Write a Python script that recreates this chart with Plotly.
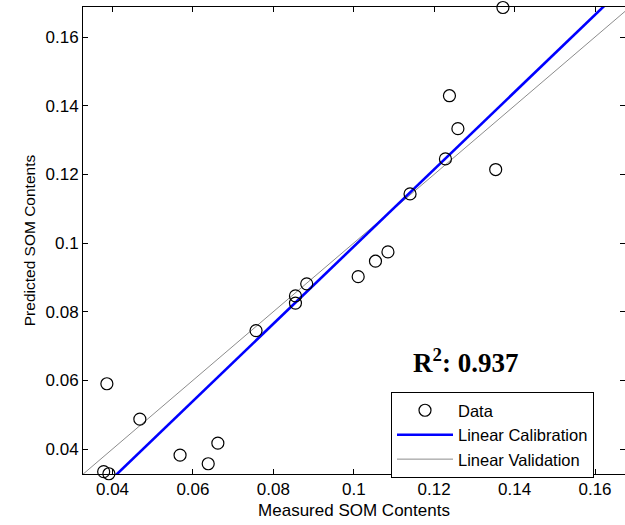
import plotly.graph_objects as go

# ---- data ----
measured = [0.0386, 0.0378, 0.0391, 0.0468, 0.0568, 0.0638, 0.0662, 0.0757,
            0.0855, 0.0855, 0.0883, 0.1011, 0.1054, 0.1085, 0.1140, 0.1228,
            0.1238, 0.1259, 0.1353, 0.1371]
predicted = [0.0590, 0.0334, 0.0328, 0.0487, 0.0382, 0.0357, 0.0417, 0.0745,
             0.0846, 0.0825, 0.0881, 0.0902, 0.0947, 0.0974, 0.1143, 0.1245,
             0.1429, 0.1333, 0.1214, 0.1686]

calib_slope = 1.125
calib_intercept = -0.01354
valid_slope = 1.0
valid_intercept = 0.0

r2_value = 0.937

tick_vals = [0.04, 0.06, 0.08, 0.10, 0.12, 0.14, 0.16]
tick_text = ["0.04", "0.06", "0.08", "0.1", "0.12", "0.14", "0.16"]

x_range = [0.03266, 0.16746]
y_range = [0.03272, 0.16874]

line_x = [0.025, 0.175]
calib_y = [calib_slope * v + calib_intercept for v in line_x]
valid_y = [valid_slope * v + valid_intercept for v in line_x]

FONT = "Liberation Sans, Arial, sans-serif"

fig = go.Figure()

fig.add_trace(go.Scatter(
    x=line_x, y=valid_y, mode="lines", name="Linear Validation",
    line=dict(color="#8c8c8c", width=1), legendrank=3,
))
fig.add_trace(go.Scatter(
    x=line_x, y=calib_y, mode="lines", name="Linear Calibration",
    line=dict(color="#0000ff", width=2.6), legendrank=2,
))
fig.add_trace(go.Scatter(
    x=measured, y=predicted, mode="markers", name="Data",
    marker=dict(symbol="circle-open", size=12, color="black",
                line=dict(color="black", width=1.2)),
    cliponaxis=False, legendrank=1,
))
# helper trace so the right-hand tick marks are drawn
fig.add_trace(go.Scatter(x=[x_range[0]], y=[y_range[0]], yaxis="y2", mode="markers",
                         marker=dict(size=0.1, opacity=0), showlegend=False,
                         hoverinfo="skip"))

axis_common = dict(
    showgrid=False, zeroline=False, ticks="inside", ticklen=5, tickwidth=1,
    tickcolor="black", tickvals=tick_vals, ticktext=tick_text,
    tickfont=dict(family=FONT, size=17, color="black"),
)

fig.update_layout(
    width=625, height=525,
    margin=dict(l=83, r=0, t=7, b=51, pad=0),
    paper_bgcolor="white", plot_bgcolor="white",
    xaxis=dict(range=x_range, showline=True, linecolor="black", linewidth=1,
               mirror="ticks",
               title=dict(text="Measured SOM Contents",
                          font=dict(family=FONT, size=17, color="black"),
                          standoff=5),
               **axis_common),
    yaxis=dict(range=y_range, showline=True, linecolor="black", linewidth=1,
               mirror=False,
               title=dict(text="Predicted SOM Contents",
                          font=dict(family=FONT, size=15.5, color="black"),
                          standoff=6),
               **axis_common),
    yaxis2=dict(range=y_range, overlaying="y", side="right", showline=False,
                showticklabels=False, showgrid=False, zeroline=False,
                ticks="inside", ticklen=5, tickcolor="black", tickvals=tick_vals),
    legend=dict(x=(391 - 83) / 542, y=(474 - 392) / 467, xanchor="left", yanchor="top",
                bgcolor="white", bordercolor="black", borderwidth=1,
                font=dict(family=FONT, size=16.5, color="black"),
                itemwidth=56, tracegroupgap=0),
    showlegend=True,
    annotations=[dict(
        text=f"<b>R<sup>2</sup>: {r2_value}</b>", xref="paper", yref="paper",
        x=(465 - 83) / 542, y=(474 - 361) / 467, xanchor="center", yanchor="middle",
        showarrow=False,
        font=dict(family="Liberation Serif, Times New Roman, serif", size=27, color="black"),
    )],
)

fig.write_html("out.html")
